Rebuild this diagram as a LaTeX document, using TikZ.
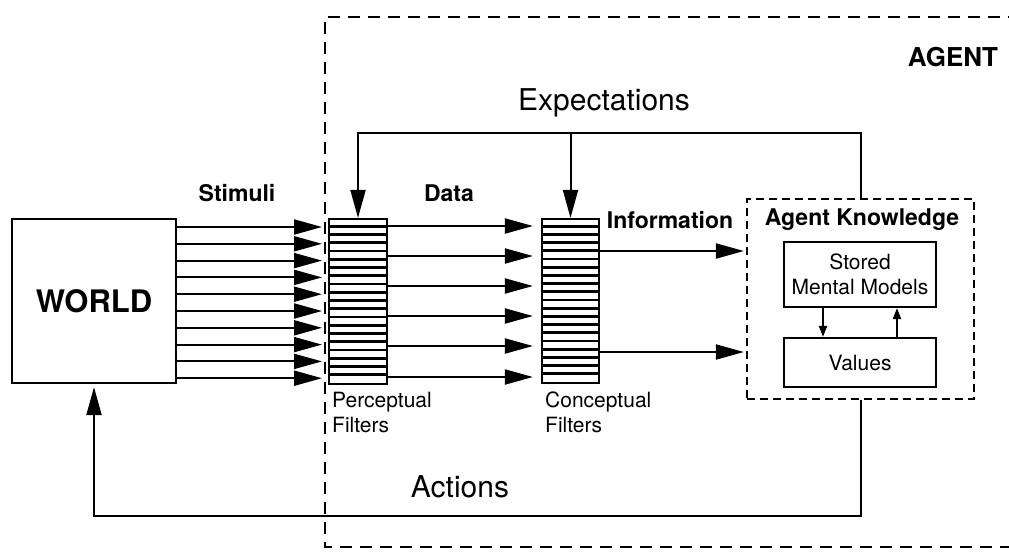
\documentclass[tikz,border=0pt]{standalone}
\usepackage{fontspec}
\setmainfont{TeX Gyre Heros}
\usetikzlibrary{arrows.meta,calc}
\begin{document}
\begin{tikzpicture}[x=1pt,y=-1pt,
  box/.style={draw,line width=2.2pt,inner sep=0pt,fill=white},
  bigarr/.style={-{Triangle[length=28pt,width=15pt]},line width=2pt},
  smallarr/.style={-{Triangle[length=11pt,width=8pt]},line width=2pt},
  stripe/.style={line width=2.8pt},
  blbl/.style={font=\fontsize{23}{27}\selectfont\bfseries,inner sep=0pt},
  biglbl/.style={font=\fontsize{30}{34}\selectfont,inner sep=0pt},
  smlbl/.style={font=\fontsize{21}{25}\selectfont,inner sep=0pt,align=left},
  agentdash/.style={line width=2.5pt,dash pattern=on 12pt off 8pt},
  akdash/.style={line width=2.2pt,dash pattern=on 8pt off 5pt}
]
\useasboundingbox (0,0) rectangle (1009,554);

% agent region
\draw[agentdash] (1020,17) -- (325,17) -- (325,547) -- (1020,547);
\node[font=\fontsize{26}{30}\selectfont\bfseries,inner sep=0pt] (agent) at (953,57) {AGENT};

% world
\node[box,minimum width=164pt,minimum height=164pt,font=\fontsize{31}{35}\selectfont\bfseries] (world) at (94,301) {WORLD};

% filters
\node[box,minimum width=58pt,minimum height=165pt] (pf) at (358,301.5) {};
\node[box,minimum width=57pt,minimum height=164pt] (cf) at (570.5,301) {};
\foreach \k in {1,...,19} {
  \draw[stripe] ($(pf.north west)+(0,8.25*\k)$) -- ($(pf.north east)+(0,8.25*\k)$);
  \draw[stripe] ($(cf.north west)+(0,8.2*\k)$) -- ($(cf.north east)+(0,8.2*\k)$);
}
\node[smlbl,anchor=north west] (pfl) at (332,392) {Perceptual\\Filters};
\node[smlbl,anchor=north west] (cfl) at (545,392) {Conceptual\\Filters};

% agent knowledge
\node[draw,akdash,minimum width=227pt,minimum height=200pt,inner sep=0pt] (ak) at (860.5,299) {};
\node[blbl] (akl) at (862,220) {Agent Knowledge};
\node[box,minimum width=152pt,minimum height=65pt,align=center,font=\fontsize{21}{25}\selectfont] (smm) at (860,274.5) {Stored\\Mental Models};
\node[box,minimum width=152pt,minimum height=49pt,font=\fontsize{21}{25}\selectfont] (val) at (860,362.5) {Values};
\coordinate (xa) at (823,0);
\coordinate (xb) at (897,0);
\draw[smallarr] (smm.south -| xa) -- (val.north -| xa);
\draw[smallarr] (val.north -| xb) -- (smm.south -| xb);

% stimuli
\node[blbl] (stim) at (237,193) {Stimuli};
\coordinate (sx) at (322,0);
\foreach \i in {0,...,9} {
  \coordinate (s\i) at (0,{227+16.8*\i});
  \draw[bigarr] (world.east |- s\i) -- (sx |- s\i);
}

% data
\node[blbl] (data) at (449,193) {Data};
\foreach \y [count=\j] in {226,256,286,316,346,377} {
  \coordinate (d\j) at (0,\y);
  \draw[bigarr,shorten >=8pt] (pf.east |- d\j) -- (cf.west |- d\j);
}

% information
\node[blbl] (info) at (670,220) {Information};
\coordinate (i1) at (0,251);
\coordinate (i2) at (0,352);
\draw[bigarr,shorten >=2pt] (cf.east |- i1) -- (ak.west |- i1);
\draw[bigarr,shorten >=2pt] (cf.east |- i2) -- (ak.west |- i2);

% expectations
\node[biglbl] (expl) at (604,103) {Expectations};
\coordinate (ey) at (0,133);
\draw[bigarr] (ak.north) -- (ak.north |- ey) -- (pf.north |- ey) -- (pf.north);
\draw[bigarr] (cf.north |- ey) -- (cf.north);

% actions
\node[biglbl] (act) at (460,487) {Actions};
\coordinate (ay) at (0,516);
\draw[bigarr,shorten >=3pt] (ak.south) -- (ak.south |- ay) -- (world.south |- ay) -- (world.south);
\end{tikzpicture}
\end{document}
